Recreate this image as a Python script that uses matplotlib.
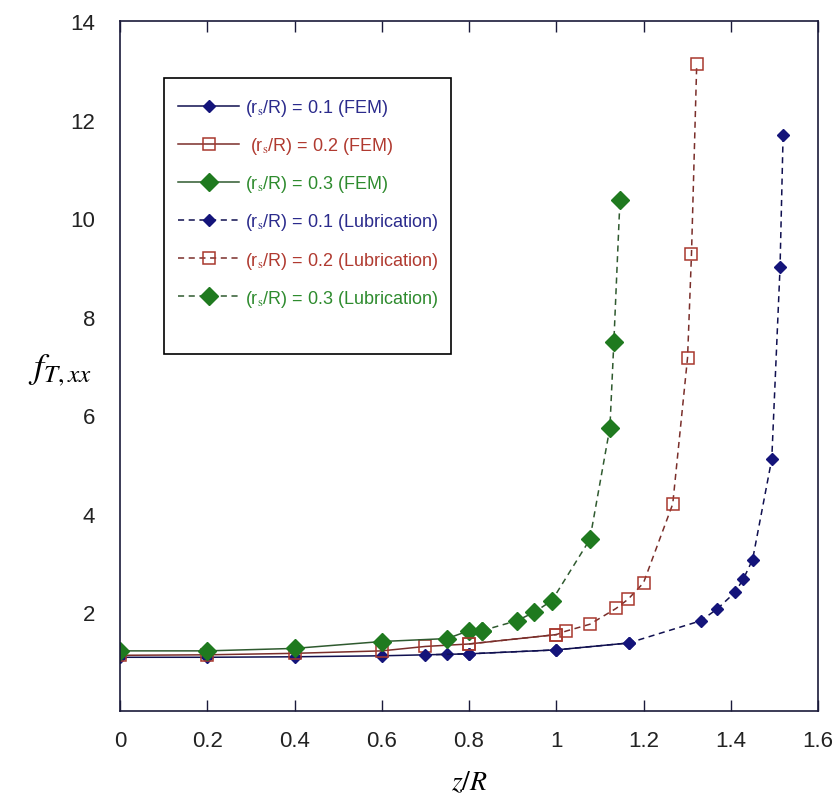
import numpy as np
import matplotlib
matplotlib.use("Agg")
import matplotlib.pyplot as plt
from matplotlib.patches import Rectangle

plt.rcParams['font.family'] = ['Liberation Sans', 'DejaVu Sans']
plt.rcParams['mathtext.fontset'] = 'stix'

# FEM results
z_fem_01 = [0.0, 0.2, 0.4, 0.6, 0.75, 0.8, 1.0, 1.166]
f_fem_01 = [1.09, 1.09, 1.10, 1.12, 1.15, 1.16, 1.24, 1.38]
z_fem_02 = [0.0, 0.2, 0.4, 0.6, 0.7, 0.8, 1.0]
f_fem_02 = [1.13, 1.14, 1.17, 1.22, 1.31, 1.36, 1.55]
z_fem_03 = [0.0, 0.2, 0.4, 0.6, 0.75, 0.8, 0.83]
f_fem_03 = [1.22, 1.22, 1.27, 1.41, 1.47, 1.63, 1.63]

# lubrication theory
z_lub_01 = [0.7, 0.8, 1.0, 1.166, 1.331, 1.369, 1.41, 1.429, 1.45, 1.494, 1.513, 1.52]
f_lub_01 = [1.14, 1.16, 1.24, 1.38, 1.83, 2.07, 2.41, 2.68, 3.07, 5.11, 9.0, 11.69]
z_lub_02 = [0.8, 1.0, 1.022, 1.077, 1.137, 1.165, 1.2, 1.267, 1.301, 1.31, 1.322]
f_lub_02 = [1.36, 1.55, 1.62, 1.76, 2.08, 2.27, 2.6, 4.2, 7.17, 9.27, 13.13]
z_lub_03 = [0.83, 0.909, 0.949, 0.99, 1.077, 1.123, 1.132, 1.146]
f_lub_03 = [1.63, 1.83, 2.0, 2.24, 3.48, 5.75, 7.48, 10.37]

labels = [r'(r$_{\rm s}$/R) = 0.1 (FEM)',
          r' (r$_{\rm s}$/R) = 0.2 (FEM)',
          r'(r$_{\rm s}$/R) = 0.3 (FEM)',
          r'(r$_{\rm s}$/R) = 0.1 (Lubrication)',
          r'(r$_{\rm s}$/R) = 0.2 (Lubrication)',
          r'(r$_{\rm s}$/R) = 0.3 (Lubrication)']
text_colors = ['#2b2b8c', '#b03a30', '#2e8b2e'] * 2

blue, red, green = '#14147a', '#a8382e', '#1f7a1f'
blue_ln, red_ln, green_ln = '#101050', '#7a2e2a', '#2f5a2f'
dash = (0, (4, 3))

fig = plt.figure(figsize=(8.4, 8.04), dpi=100)
ax = fig.add_axes([120 / 840, 1 - 712 / 804, 698 / 840, 690 / 804])

ax.plot(z_fem_01, f_fem_01, '-', color=blue_ln, lw=1.1, marker='D', ms=6,
        mfc=blue, mec=blue, label=labels[0])
ax.plot(z_fem_02, f_fem_02, '-', color=red_ln, lw=1.1, marker='s', ms=9,
        mfc='none', mec=red, mew=1.1, label=labels[1])
ax.plot(z_fem_03, f_fem_03, '-', color=green_ln, lw=1.1, marker='D', ms=9.5,
        mfc=green, mec=green, label=labels[2])
ax.plot(z_lub_01, f_lub_01, linestyle=dash, color=blue_ln, lw=1.1, marker='D', ms=6.5,
        mfc=blue, mec=blue, label=labels[3])
ax.plot(z_lub_02, f_lub_02, linestyle=dash, color=red_ln, lw=1.1, marker='s', ms=9,
        mfc='none', mec=red, mew=1.1, label=labels[4])
ax.plot(z_lub_03, f_lub_03, linestyle=dash, color=green_ln, lw=1.1, marker='D', ms=9.5,
        mfc=green, mec=green, label=labels[5])

ax.set_xlim(0, 1.6)
ax.set_ylim(0, 14)
ax.set_xticks(np.arange(0, 1.61, 0.2))
ax.set_xticklabels(['0', '0.2', '0.4', '0.6', '0.8', '1', '1.2', '1.4', '1.6'])
ax.set_yticks(np.arange(2, 15, 2))
ax.tick_params(axis='x', direction='in', top=True, length=8, width=1,
               labelsize=16, pad=14, colors='#1a1a3a', labelcolor='#222222')
ax.tick_params(axis='y', length=0, labelsize=16, pad=18, labelcolor='#222222')
for sp in ax.spines.values():
    sp.set_color('#1a1a3a')
    sp.set_linewidth(1.2)

ax.set_xlabel(r'$z/R$', fontsize=20, labelpad=13)
fig.text(60 / 840, 1 - 370 / 804, r'$f_{T,xx}$', fontsize=26,
         ha='center', va='center')

# legend entries without frame, box drawn separately
leg = ax.legend(loc='upper left', bbox_to_anchor=(0.083, 0.890), borderaxespad=0,
                borderpad=0, fontsize=13, handlelength=3.4, handletextpad=0.3,
                labelspacing=0.95, frameon=False)
for t, c in zip(leg.get_texts(), text_colors):
    t.set_color(c)
ax.add_patch(Rectangle((0.063, 0.5174), 0.4112, 0.4, transform=ax.transAxes,
                       fill=True, facecolor='white', edgecolor='black',
                       lw=1.2, zorder=4))
leg.set_zorder(5)

fig.savefig('out.png', dpi=100)
